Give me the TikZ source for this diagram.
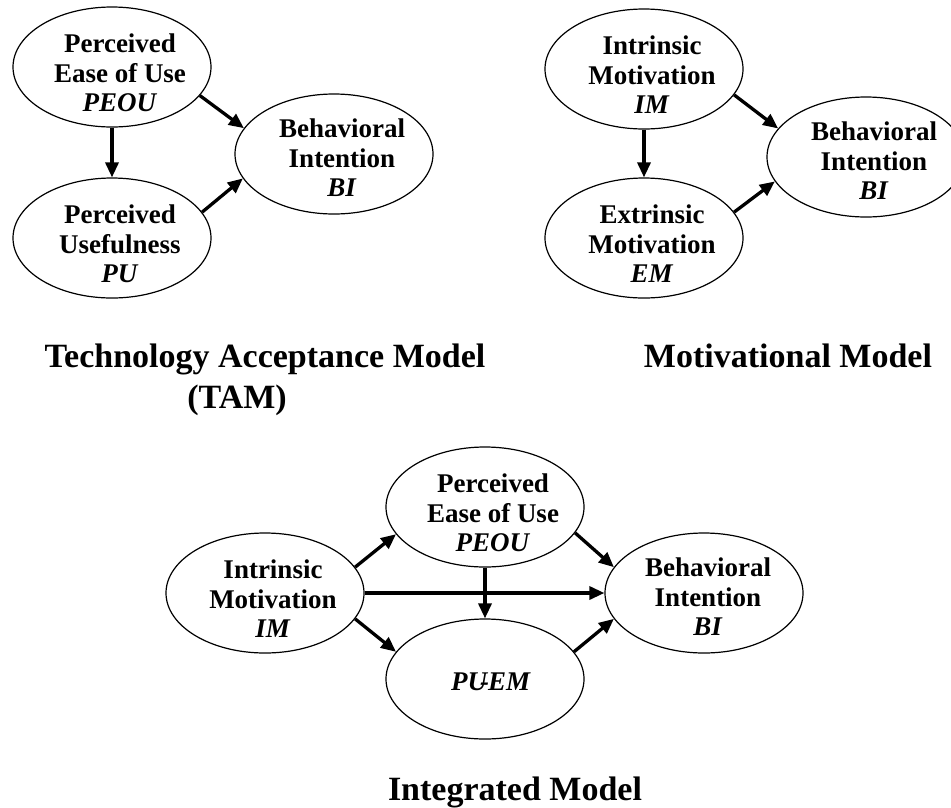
\documentclass[tikz,border=0pt]{standalone}
\usepackage{fontspec}
\setmainfont{Liberation Serif}
\usetikzlibrary{arrows.meta,shapes.geometric}
\begin{document}
\begin{tikzpicture}[x=1pt,y=-1pt,
  ell/.style={draw,ellipse,line width=1.2pt,minimum width=198pt,minimum height=120pt,inner sep=0pt},
  lbl/.style={align=center,inner sep=0pt,font=\fontsize{27}{29.5}\selectfont\bfseries},
  ttl/.style={inner sep=0pt,anchor=base,font=\fontsize{34}{38}\selectfont\bfseries},
  arr/.style={line width=3.3pt,-{Triangle[length=15pt,width=13pt]}}]
\useasboundingbox (0,0) rectangle (951,807);
% ---------- TAM ----------
\node[ell] (tpeou) at (112,67) {};
\node[ell] (tpu) at (112,238) {};
\node[ell] (tbi) at (334,154) {};
\node[lbl] (tpeou-t) at ([shift={(8,6)}]tpeou.center) {Perceived\\Ease of Use\\\textit{PEOU}};
\node[lbl] (tpu-t) at ([shift={(8,6)}]tpu.center) {Perceived\\Usefulness\\\textit{PU}};
\node[lbl] (tbi-t) at ([shift={(8,4)}]tbi.center) {Behavioral\\Intention\\\textit{BI}};
\draw[arr] (tpeou.south) -- (tpu.north);
\draw[arr] (tpeou.-18) -- (tbi.164);
\draw[arr] (tpu.16.5) -- (tbi.195);
\node[ttl] (ttitle) at (265,367) {Technology Acceptance Model};
\node[ttl] (ttitle2) at (237,408) {(TAM)};
% ---------- Motivational ----------
\node[ell] (mim) at (644,69) {};
\node[ell] (mem) at (644,238) {};
\node[ell] (mbi) at (866,157) {};
\node[lbl] (mim-t) at ([shift={(8,6)}]mim.center) {Intrinsic\\Motivation\\\textit{IM}};
\node[lbl] (mem-t) at ([shift={(8,6)}]mem.center) {Extrinsic\\Motivation\\\textit{EM}};
\node[lbl] (mbi-t) at ([shift={(8,4)}]mbi.center) {Behavioral\\Intention\\\textit{BI}};
\draw[arr] (mim.south) -- (mem.north);
\draw[arr] (mim.-16.5) -- (mbi.162);
\draw[arr] (mem.16.5) -- (mbi.195);
\node[ttl] (mtitle) at (788,367) {Motivational Model};
% ---------- Integrated ----------
\node[ell] (iim) at (265,593) {};
\node[ell] (ipeou) at (485,507) {};
\node[ell] (ipuem) at (485,679) {};
\node[ell] (ibi) at (704,593) {};
\node[lbl] (iim-t) at ([shift={(8,6)}]iim.center) {Intrinsic\\Motivation\\\textit{IM}};
\node[lbl] (ipeou-t) at ([shift={(8,6)}]ipeou.center) {Perceived\\Ease of Use\\\textit{PEOU}};
\node[lbl] (ipuem-t) at ([shift={(6,3)}]ipuem.center) {\textit{PU\kern-7pt-\kern-1pt EM}};
\node[lbl] (ibi-t) at ([shift={(4,4)}]ibi.center) {Behavioral\\Intention\\\textit{BI}};
\draw[arr] (iim.east) -- (ibi.west);
\draw[arr] (ipeou.south) -- (ipuem.north);
\draw[arr] (iim.16.5) -- (ipeou.-163);
\draw[arr] (ipeou.-16.5) -- (ibi.164);
\draw[arr] (iim.-16.5) -- (ipuem.163.5);
\draw[arr] (ipuem.17) -- (ibi.196.6);
\node[ttl] (ititle) at (515,800) {Integrated Model};
\end{tikzpicture}
\end{document}
